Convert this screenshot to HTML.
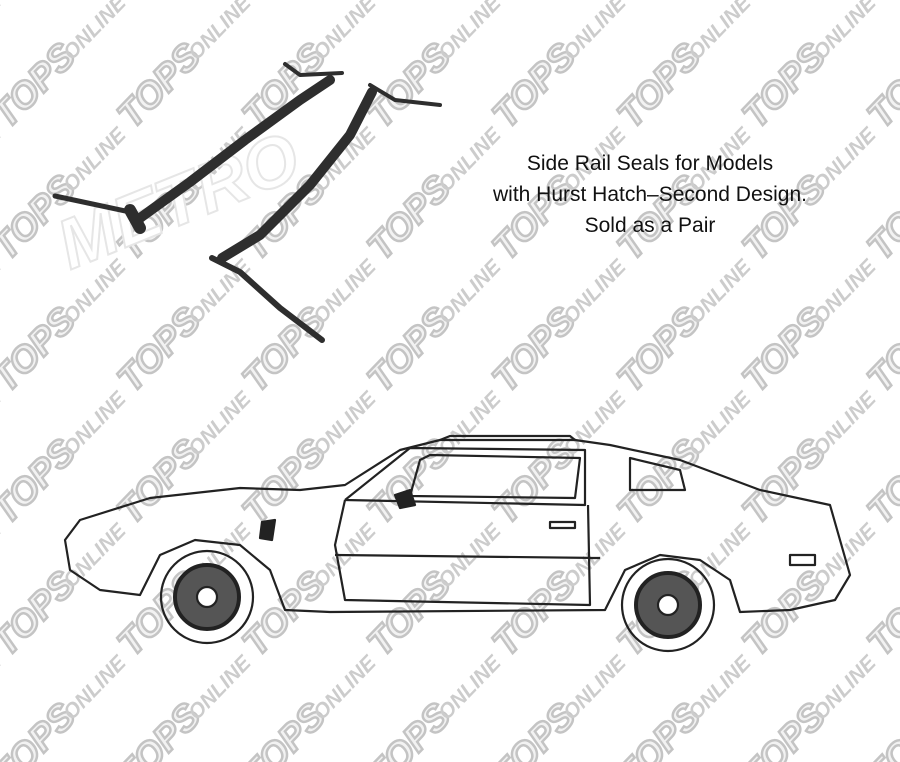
<!DOCTYPE html>
<html><head><meta charset="utf-8"><style>
html,body{margin:0;padding:0;background:#fff;width:900px;height:762px;overflow:hidden;position:relative}
svg{position:absolute;left:0;top:0;display:block}
.t{font-family:"Liberation Sans",sans-serif;font-weight:bold;font-style:italic;font-size:37px;fill:#f2f2f2;stroke:#c4c4c4;stroke-width:2.5}
.o{font-family:"Liberation Sans",sans-serif;font-weight:bold;font-style:italic;font-size:21px;fill:#cccccc}
.cap{position:absolute;left:440px;top:148px;width:420px;text-align:center;font-family:"Liberation Sans",sans-serif;font-size:21px;line-height:31px;color:#111}
</style></head><body>
<svg width="900" height="762" viewBox="0 0 900 762">
<defs>
<g id="wm"><g transform="rotate(-46)"><text class="t" x="0" y="0">TOPS</text><text class="o" x="94" y="-2">ONLINE</text></g></g>
</defs>
<g id="tiles"></g>
<text x="70" y="270" transform="rotate(-22 70 270)" font-family="Liberation Sans,sans-serif" font-weight="bold" font-style="italic" font-size="70" fill="#fff" stroke="#e6e6e6" stroke-width="2">METRO</text>
<!-- seals -->
<g fill="none" stroke="#2e2e2e" stroke-linejoin="round" stroke-linecap="round">
<path d="M140 218 L190 182 L245 140 L300 100 L330 80" stroke-width="10"/>
<path d="M55 196 L130 212" stroke-width="5"/>
<path d="M130 210 L140 228" stroke-width="12"/>
<path d="M285 64 L300 75 L342 73" stroke-width="4"/>
<path d="M372 92 L350 135 L310 185 L260 235 L222 258" stroke-width="10"/>
<path d="M370 85 L395 100 L440 105" stroke-width="4"/>
<path d="M212 258 L240 272 L280 308 L322 340" stroke-width="6"/>
</g>
<!-- car -->
<g fill="none" stroke="#222" stroke-width="2.2" stroke-linejoin="round">
<path d="M65 540 L80 520 L150 498 L240 488 L300 490 L345 485 L400 450 L440 440 L575 440 L610 445 L680 460 L760 490 L830 505 L840 540 L850 575 L835 600 L790 610 L740 612 L730 580 L700 560 L660 555 L625 570 L605 610 L330 612 L285 610 L270 570 L240 545 L195 540 L160 555 L140 595 L100 590 L70 570 Z"/>
<path d="M345 500 L410 448 L585 450 L585 505 L345 500"/>
<path d="M420 460 L430 455 L580 458 L575 498 L410 496 Z"/>
<path d="M630 458 L680 470 L685 490 L630 490 Z"/>
<path d="M335 555 L600 558 M345 500 L335 545 L345 600 L590 605 L588 505"/>
<path d="M440 440 L450 436 L570 436 L575 440"/>
<circle cx="207" cy="597" r="46"/><circle cx="207" cy="597" r="32" fill="#555" stroke-width="4"/><circle cx="207" cy="597" r="10" fill="#fff"/>
<circle cx="668" cy="605" r="46"/><circle cx="668" cy="605" r="32" fill="#555" stroke-width="4"/><circle cx="668" cy="605" r="10" fill="#fff"/>
<rect x="550" y="522" width="25" height="6"/><rect x="790" y="555" width="25" height="10"/>
<path d="M262 522 L275 520 L272 540 L260 538 Z" fill="#222"/>
<path d="M395 495 L410 490 L415 505 L400 508 Z" fill="#222"/>
</g>
</svg>
<div class="cap">Side Rail Seals for Models<br>with Hurst Hatch–Second Design.<br>Sold as a Pair</div>
<script>
var g=document.getElementById('tiles'),s='';
for(var r=-1;r<7;r++)for(var c=-1;c<8;c++){var x=c*125+8,y=r*132+130;s+='<use href="#wm" x="'+x+'" y="'+y+'"/>';}
g.innerHTML=s;
</script>
</body></html>
